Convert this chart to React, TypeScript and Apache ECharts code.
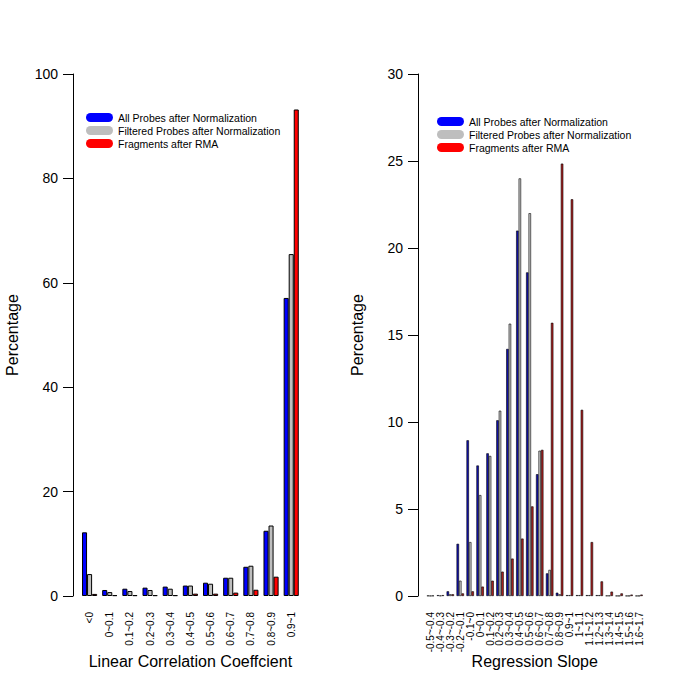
import * as echarts from 'echarts';
import { useEffect, useRef } from 'react';

const corrCats = ['<0', '0~0.1', '0.1~0.2', '0.2~0.3', '0.3~0.4', '0.4~0.5', '0.5~0.6', '0.6~0.7', '0.7~0.8', '0.8~0.9', '0.9~1'];
const corrAll = [12.2, 1.15, 1.4, 1.6, 1.8, 2.0, 2.55, 3.5, 5.6, 12.5, 57.1];
const corrFiltered = [4.2, 0.75, 0.95, 1.15, 1.4, 2.0, 2.35, 3.5, 5.8, 13.5, 65.5];
const corrFragments = [0.4, 0.15, 0.15, 0.15, 0.15, 0.45, 0.45, 0.65, 1.2, 3.7, 93.2];

const slopeCats = [
  '-0.5~-0.4', '-0.4~-0.3', '-0.3~-0.2', '-0.2~-0.1', '-0.1~0', '0~0.1', '0.1~0.2', '0.2~0.3',
  '0.3~0.4', '0.4~0.5', '0.5~0.6', '0.6~0.7', '0.7~0.8', '0.8~0.9', '0.9~1', '1~1.1',
  '1.1~1.2', '1.2~1.3', '1.3~1.4', '1.4~1.5', '1.5~1.6', '1.6~1.7',
];
const slopeAll = [0.02, 0.05, 0.27, 3.0, 8.95, 7.5, 8.2, 10.1, 14.2, 21.0, 18.6, 7.0, 1.3, 0.19, 0.05, 0.05, 0.05, 0.05, 0.02, 0.01, 0.01, 0.01];
const slopeFiltered = [0.01, 0.02, 0.1, 0.88, 3.1, 5.8, 8.05, 10.65, 15.65, 24.0, 22.0, 8.35, 1.5, 0.1, 0.05, 0.05, 0.05, 0.05, 0.02, 0.01, 0.01, 0.01];
const slopeFragments = [0.02, 0.05, 0.1, 0.15, 0.27, 0.54, 0.88, 1.4, 2.15, 3.3, 5.15, 8.4, 15.7, 24.85, 22.8, 10.7, 3.1, 0.84, 0.25, 0.15, 0.08, 0.08];

const seriesNames = ['All Probes after Normalization', 'Filtered Probes after Normalization', 'Fragments after RMA'];
const colors = ['#0000FF', '#BEBEBE', '#FF0000'];
// the thin right-hand bars read darker in the original
const slopeColors = ['#1010B0', '#C8C8C8', '#B02020'];

const FONT = '"Liberation Sans", Arial, sans-serif';
const PILL = 'path://M4.5,0H22.5A4.5,4.5,0,0,1,22.5,9H4.5A4.5,4.5,0,0,1,4.5,0Z';

function xAxis(gridIndex: number, data: string[], name: string) {
  return {
    type: 'category',
    gridIndex,
    data,
    name,
    nameLocation: 'middle',
    nameGap: 57,
    nameMoveOverlap: false,
    nameTextStyle: { color: '#000', fontSize: 16, fontFamily: FONT },
    axisLine: { show: false },
    axisTick: { show: false },
    axisLabel: { interval: 0, rotate: 90, margin: 16, color: '#000', fontSize: 10, fontFamily: FONT },
  };
}

function yAxis(gridIndex: number, max: number, interval: number, offset: number) {
  return {
    type: 'value',
    gridIndex,
    min: 0,
    max,
    interval,
    offset,
    name: 'Percentage',
    nameLocation: 'middle',
    nameGap: 53,
    nameMoveOverlap: false,
    nameTextStyle: { color: '#000', fontSize: 16, fontFamily: FONT },
    axisLine: { show: true, lineStyle: { color: '#000', width: 1 } },
    axisTick: { show: true, length: 10, lineStyle: { color: '#000' } },
    axisLabel: { margin: 15, color: '#000', fontSize: 14, fontFamily: FONT },
    splitLine: { show: false },
  };
}

function legend(left: number, top: number) {
  return {
    orient: 'vertical',
    left,
    top,
    padding: 0,
    itemGap: 0,
    itemWidth: 27,
    itemHeight: 9,
    icon: PILL,
    selectedMode: false,
    textStyle: { color: '#000', fontSize: 10.5, lineHeight: 13, fontFamily: FONT },
    data: seriesNames.map((name, i) => ({ name, itemStyle: { color: colors[i], borderWidth: 0 } })),
  };
}

function bars(xAxisIndex: number, values: number[][], fills: string[], borderWidth: number) {
  return values.map((data, i) => ({
    type: 'bar',
    name: seriesNames[i],
    xAxisIndex,
    yAxisIndex: xAxisIndex,
    data,
    barGap: '0%',
    barCategoryGap: '25%',
    itemStyle: { color: fills[i], borderColor: '#000', borderWidth },
  }));
}

export default function App() {
  const ref = useRef<HTMLDivElement>(null);

  useEffect(() => {
    const chart = echarts.init(ref.current!, undefined, { renderer: 'svg' });
    chart.setOption({
      animation: false,
      backgroundColor: '#fff',
      textStyle: { fontFamily: FONT },
      grid: [
        { left: 79.5, width: 221.8, top: 74, bottom: 92 },
        { left: 425.5, width: 218.5, top: 74, bottom: 92 },
      ],
      legend: [legend(86, 111), legend(437, 115)],
      xAxis: [
        xAxis(0, corrCats, 'Linear Correlation Coeffcient'),
        xAxis(1, slopeCats, 'Regression Slope'),
      ],
      yAxis: [yAxis(0, 100, 20, 6.5), yAxis(1, 30, 5, 7.5)],
      series: [
        ...bars(0, [corrAll, corrFiltered, corrFragments], colors, 1),
        ...bars(1, [slopeAll, slopeFiltered, slopeFragments], slopeColors, 0.6),
      ],
    });
    return () => chart.dispose();
  }, []);

  return <div ref={ref} style={{ position: 'fixed', left: 0, top: 0, width: 689, height: 688 }} />;
}
